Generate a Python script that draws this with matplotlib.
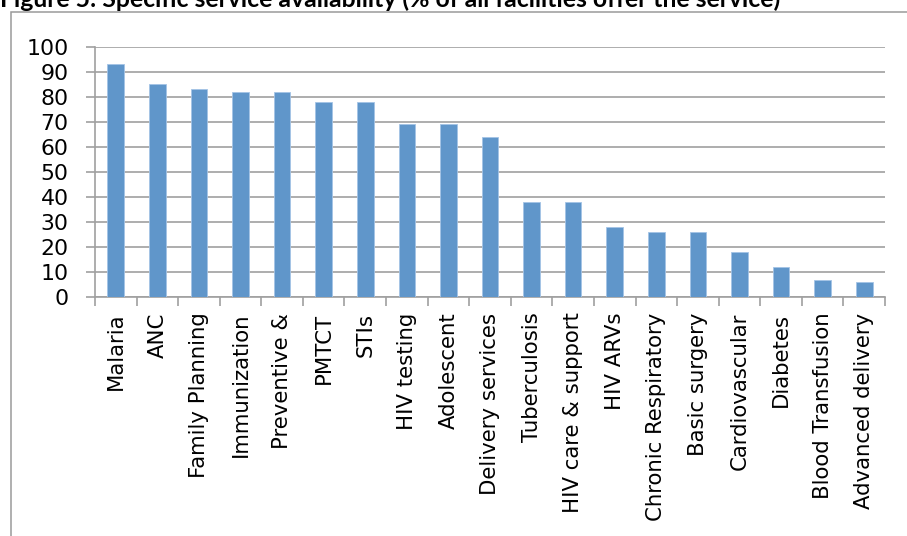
import numpy as np
import matplotlib.pyplot as plt
from matplotlib.patches import Rectangle
from matplotlib.ticker import FixedLocator

services = ["Malaria", "ANC", "Family Planning", "Immunization", "Preventive &",
            "PMTCT", "STIs", "HIV testing", "Adolescent", "Delivery services",
            "Tuberculosis", "HIV care & support", "HIV ARVs", "Chronic Respiratory",
            "Basic surgery", "Cardiovascular", "Diabetes", "Blood Transfusion",
            "Advanced delivery"]
availability = [93, 85, 83, 82, 82, 78, 78, 69, 69, 64,
                38, 38, 28, 26, 26, 18, 12, 7, 6]
yticks = [0, 10, 20, 30, 40, 50, 60, 70, 80, 90, 100]

W, H = 907, 536
grid_col = "#A0A0A0"

fig = plt.figure(figsize=(W / 100, H / 100), dpi=100)

# chart frame, runs off the right and bottom edges
fig.patches.append(Rectangle((10.5 / W, -0.1), 1.2, (H - 12) / H + 0.1,
                             transform=fig.transFigure, fill=False,
                             edgecolor="#9A9A9A", linewidth=1.1))

fig.text(0 / W, 1 - 7 / H, "Figure 5: Specific service availability (% of all facilities offer the service)",
         fontsize=17.8, fontweight="bold", family="Lato", va="baseline", ha="left")

ax = fig.add_axes([95 / W, (H - 297.3) / H, 790 / W, 250.6 / H])
x = np.arange(len(services))
ax.bar(x, availability, width=0.4, color="#6096CA", edgecolor="#A4C4E6",
       linewidth=0.6, zorder=3)

ax.set_xlim(-0.5, len(services) - 0.5)
ax.set_ylim(0, 100)
ax.set_yticks(yticks)
ax.yaxis.grid(True, color=grid_col, linewidth=1.2)
ax.set_axisbelow(True)

ax.set_xticks(x)
ax.set_xticklabels(services, rotation=90, fontsize=15.3, family="DejaVu Sans")
ax.xaxis.set_minor_locator(FixedLocator(np.arange(len(services) + 1) - 0.5))
ax.tick_params(axis="x", which="major", length=0, pad=11)
ax.tick_params(axis="x", which="minor", length=6.5, width=1.2, color=grid_col)
ax.tick_params(axis="y", length=6.5, width=1.2, color=grid_col, labelsize=15.8, pad=12.5)

for side in ["top", "right"]:
    ax.spines[side].set_visible(False)
for side in ["left", "bottom"]:
    ax.spines[side].set_color(grid_col)
    ax.spines[side].set_linewidth(1.2)

plt.savefig("out.png", dpi=100)
